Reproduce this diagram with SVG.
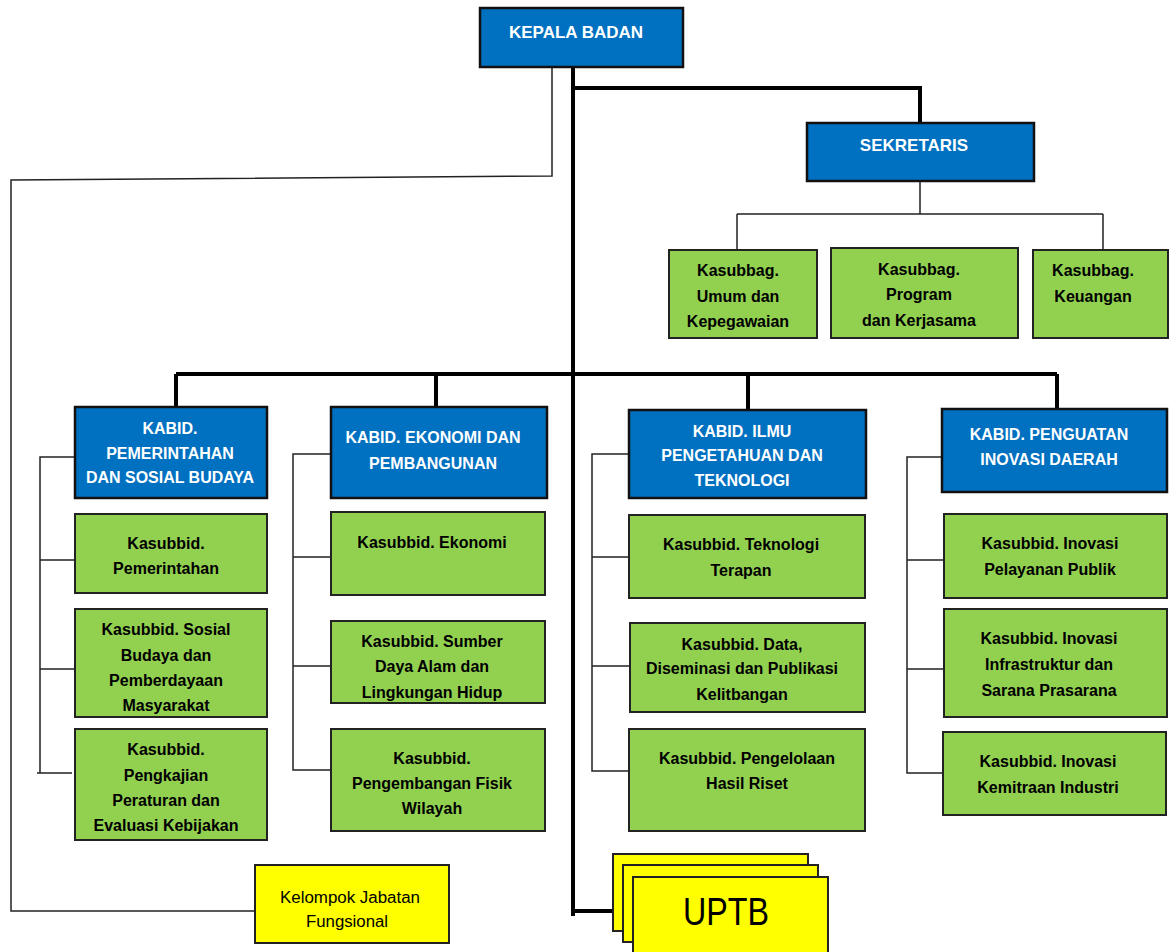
<svg xmlns="http://www.w3.org/2000/svg" width="1176" height="952" viewBox="0 0 1176 952">
<style>
.blue{fill:#0070C0;stroke:#111;stroke-width:2.5}
.green{fill:#92D050;stroke:#222;stroke-width:2}
.yellow{fill:#FFFF00;stroke:#222;stroke-width:2}
.tw{font-family:"Liberation Sans",Arial,sans-serif;font-weight:bold;font-size:16px;fill:#fff;text-anchor:middle}
.tb{font-family:"Liberation Sans",Arial,sans-serif;font-weight:bold;font-size:16px;fill:#000;text-anchor:middle}
.tr{font-family:"Liberation Sans",Arial,sans-serif;font-size:16px;fill:#000;text-anchor:middle}
.big{font-size:17px}
.uptb{font-size:38px}
.thick{fill:none;stroke:#000;stroke-width:4}
.thin{fill:none;stroke:#222;stroke-width:1.5}
</style>
<rect width="1176" height="952" fill="#fff"/>
<g id="connectors">
<path class="thin" d="M552,67 V176 L11,180 V911 H255"/>
<path class="thin" d="M920,181 V214 M737,214 H1103 M737,214 V250 M1103,214 V252"/>
<path class="thin" d="M75,457 H40 V773 M40,560 H75 M40,669 H75 M37,773 H72"/>
<path class="thin" d="M331,454 H293 V770 H331 M293,557 H331 M293,666 H331"/>
<path class="thin" d="M629,454 H592 V771 H629 M592,557 H629 M592,666 H630"/>
<path class="thin" d="M942,457 H907 V773 H943 M907,560 H944 M907,669 H944"/>
<path class="thick" d="M573,67 V916 M573,88 H920 V123 M176,374 H1057 M176,374 V407 M436,374 V407 M748,374 V410 M1057,374 V409 M573,911 H613"/>
</g>
<g id="kepala-badan">
<rect class="blue" x="480" y="8" width="203" height="59"/>
<text class="tw big" x="576" y="38">KEPALA BADAN</text>
</g>
<g id="sekretaris">
<rect class="blue" x="807" y="123" width="227" height="58"/>
<text class="tw big" x="914" y="151">SEKRETARIS</text>
</g>
<g id="kasubbag-umum">
<rect class="green" x="669" y="250" width="148" height="88"/>
<text class="tb" x="738" y="276">Kasubbag.</text>
<text class="tb" x="738" y="302">Umum dan</text>
<text class="tb" x="738" y="327">Kepegawaian</text>
</g>
<g id="kasubbag-program">
<rect class="green" x="831" y="248" width="187" height="90"/>
<text class="tb" x="919" y="275">Kasubbag.</text>
<text class="tb" x="919" y="300">Program</text>
<text class="tb" x="919" y="326">dan Kerjasama</text>
</g>
<g id="kasubbag-keuangan">
<rect class="green" x="1033" y="250" width="135" height="88"/>
<text class="tb" x="1093" y="276">Kasubbag.</text>
<text class="tb" x="1093" y="302">Keuangan</text>
</g>
<g id="kabid-pemerintahan">
<rect class="blue" x="75" y="407" width="192" height="91"/>
<text class="tw" x="170" y="434">KABID.</text>
<text class="tw" x="170" y="459">PEMERINTAHAN</text>
<text class="tw" x="170" y="483" textLength="168" lengthAdjust="spacingAndGlyphs">DAN SOSIAL BUDAYA</text>
</g>
<g id="kasubbid-pemerintahan">
<rect class="green" x="75" y="514" width="192" height="79"/>
<text class="tb" x="166" y="549">Kasubbid.</text>
<text class="tb" x="166" y="574">Pemerintahan</text>
</g>
<g id="kasubbid-sosial">
<rect class="green" x="75" y="609" width="192" height="108"/>
<text class="tb" x="166" y="635">Kasubbid. Sosial</text>
<text class="tb" x="166" y="661">Budaya dan</text>
<text class="tb" x="166" y="686">Pemberdayaan</text>
<text class="tb" x="166" y="711">Masyarakat</text>
</g>
<g id="kasubbid-pengkajian">
<rect class="green" x="75" y="729" width="192" height="111"/>
<text class="tb" x="166" y="755">Kasubbid.</text>
<text class="tb" x="166" y="781">Pengkajian</text>
<text class="tb" x="166" y="806">Peraturan dan</text>
<text class="tb" x="166" y="831">Evaluasi Kebijakan</text>
</g>
<g id="kabid-ekonomi">
<rect class="blue" x="331" y="407" width="216" height="91"/>
<text class="tw" x="433" y="443">KABID. EKONOMI DAN</text>
<text class="tw" x="433" y="469">PEMBANGUNAN</text>
</g>
<g id="kasubbid-ekonomi">
<rect class="green" x="331" y="512" width="214" height="83"/>
<text class="tb" x="432" y="548">Kasubbid. Ekonomi</text>
</g>
<g id="kasubbid-sda">
<rect class="green" x="331" y="621" width="214" height="82"/>
<text class="tb" x="432" y="647">Kasubbid. Sumber</text>
<text class="tb" x="432" y="672">Daya Alam dan</text>
<text class="tb" x="432" y="698">Lingkungan Hidup</text>
</g>
<g id="kasubbid-fisik">
<rect class="green" x="331" y="729" width="214" height="102"/>
<text class="tb" x="432" y="764">Kasubbid.</text>
<text class="tb" x="432" y="789">Pengembangan Fisik</text>
<text class="tb" x="432" y="814">Wilayah</text>
</g>
<g id="kabid-iptek">
<rect class="blue" x="629" y="410" width="237" height="88"/>
<text class="tw" x="742" y="437">KABID. ILMU</text>
<text class="tw" x="742" y="461">PENGETAHUAN DAN</text>
<text class="tw" x="742" y="486">TEKNOLOGI</text>
</g>
<g id="kasubbid-teknologi">
<rect class="green" x="629" y="515" width="236" height="83"/>
<text class="tb" x="741" y="550">Kasubbid. Teknologi</text>
<text class="tb" x="741" y="576">Terapan</text>
</g>
<g id="kasubbid-data">
<rect class="green" x="630" y="623" width="235" height="89"/>
<text class="tb" x="742" y="650">Kasubbid. Data,</text>
<text class="tb" x="742" y="674">Diseminasi dan Publikasi</text>
<text class="tb" x="742" y="700">Kelitbangan</text>
</g>
<g id="kasubbid-riset">
<rect class="green" x="629" y="729" width="236" height="102"/>
<text class="tb" x="747" y="764">Kasubbid. Pengelolaan</text>
<text class="tb" x="747" y="789">Hasil Riset</text>
</g>
<g id="kabid-inovasi">
<rect class="blue" x="942" y="409" width="225" height="83"/>
<text class="tw" x="1049" y="440">KABID. PENGUATAN</text>
<text class="tw" x="1049" y="465">INOVASI DAERAH</text>
</g>
<g id="kasubbid-pelayanan">
<rect class="green" x="944" y="514" width="223" height="84"/>
<text class="tb" x="1050" y="549">Kasubbid. Inovasi</text>
<text class="tb" x="1050" y="575">Pelayanan Publik</text>
</g>
<g id="kasubbid-infrastruktur">
<rect class="green" x="944" y="609" width="223" height="108"/>
<text class="tb" x="1049" y="644">Kasubbid. Inovasi</text>
<text class="tb" x="1049" y="670">Infrastruktur dan</text>
<text class="tb" x="1049" y="696">Sarana Prasarana</text>
</g>
<g id="kasubbid-kemitraan">
<rect class="green" x="943" y="732" width="223" height="83"/>
<text class="tb" x="1048" y="767">Kasubbid. Inovasi</text>
<text class="tb" x="1048" y="793">Kemitraan Industri</text>
</g>
<g id="kelompok-jabatan">
<rect class="yellow" x="255" y="865" width="194" height="78"/>
<text class="tr" x="350" y="903" textLength="140" lengthAdjust="spacingAndGlyphs">Kelompok Jabatan</text>
<text class="tr" x="347" y="927" textLength="82" lengthAdjust="spacingAndGlyphs">Fungsional</text>
</g>
<g id="uptb">
<rect class="yellow" x="613" y="854" width="195" height="77"/>
<rect class="yellow" x="623" y="865" width="195" height="77"/>
<rect class="yellow" x="633" y="877" width="195" height="80"/>
<text class="tr uptb" x="726" y="925" textLength="86" lengthAdjust="spacingAndGlyphs">UPTB</text>
</g>
</svg>
